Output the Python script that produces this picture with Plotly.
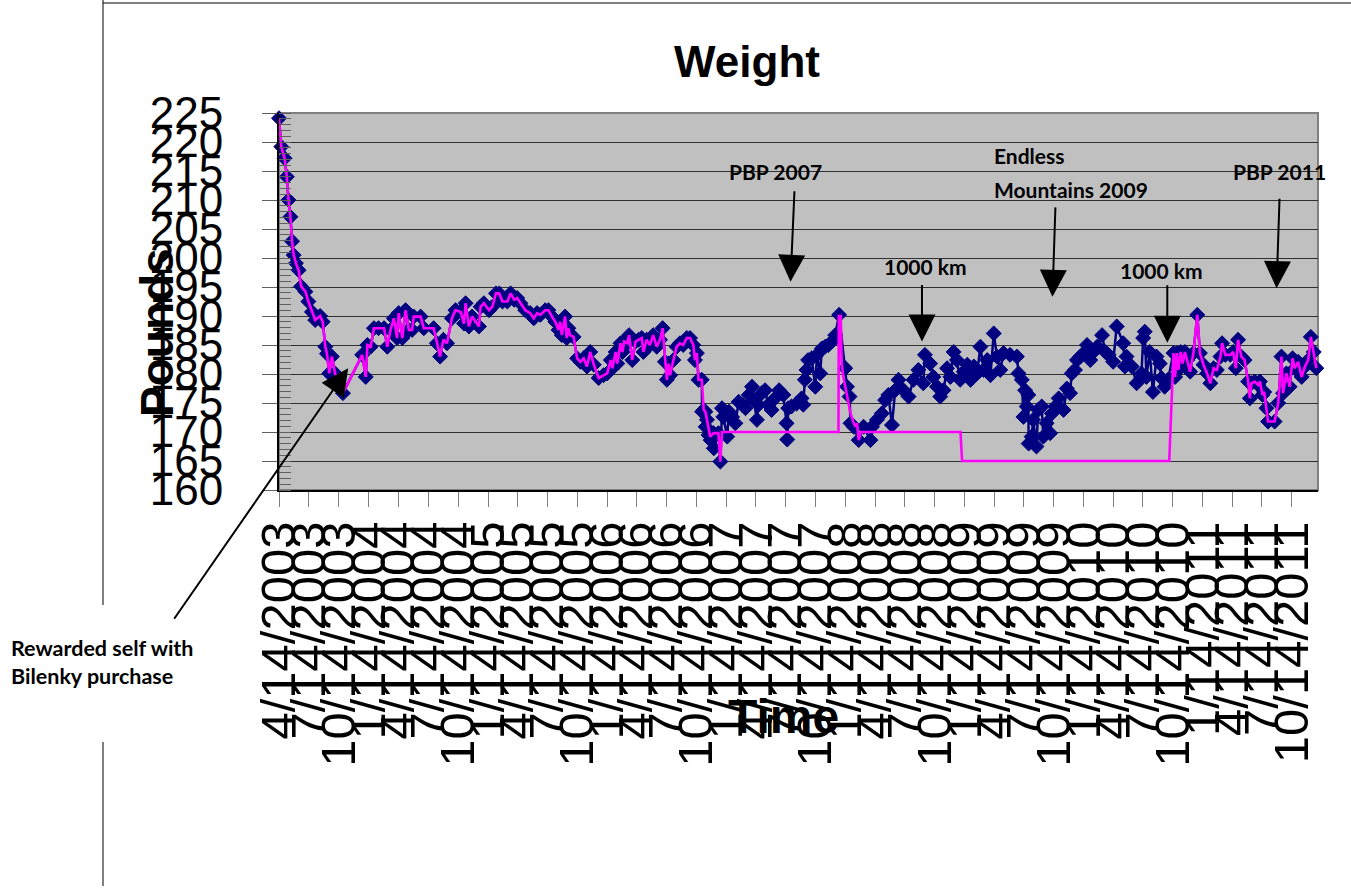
import plotly.graph_objects as go

# ---------------- data ----------------
# 2003 - 2006: weigh-ins, trend line follows them
seg1_dates = [
    "2003-04-14", "2003-04-21", "2003-05-01", "2003-05-08", "2003-05-13", "2003-05-19", "2003-05-24",
    "2003-05-29", "2003-06-05", "2003-06-13", "2003-06-21", "2003-07-04", "2003-07-13", "2003-07-24",
    "2003-08-03", "2003-08-18", "2003-08-26", "2003-09-03", "2003-09-08", "2003-09-15", "2003-09-23",
    "2003-10-03", "2003-10-27", "2003-12-25", "2004-01-05", "2004-01-10", "2004-01-20", "2004-01-30",
    "2004-02-13", "2004-03-01", "2004-03-11", "2004-03-21", "2004-03-31", "2004-04-10", "2004-04-15",
    "2004-04-26", "2004-05-06", "2004-05-16", "2004-05-26", "2004-05-31", "2004-06-21", "2004-07-01",
    "2004-07-31", "2004-08-10", "2004-08-20", "2004-08-30", "2004-09-10", "2004-09-25", "2004-10-06",
    "2004-10-22", "2004-11-01", "2004-11-06", "2004-11-16", "2004-11-26", "2004-12-17", "2004-12-22",
    "2005-01-01", "2005-01-17", "2005-01-27", "2005-02-07", "2005-02-17", "2005-02-27", "2005-03-14",
    "2005-03-24", "2005-04-04", "2005-04-13", "2005-04-23", "2005-05-08", "2005-05-23", "2005-06-03",
    "2005-06-13", "2005-06-23", "2005-07-08", "2005-07-18", "2005-07-29", "2005-08-08", "2005-08-18",
    "2005-08-23", "2005-08-28", "2005-09-07", "2005-09-12", "2005-09-17", "2005-09-22", "2005-10-03",
    "2005-10-14", "2005-10-24", "2005-11-03", "2005-11-13", "2005-11-23", "2005-12-04", "2005-12-19",
    "2006-01-03", "2006-01-14", "2006-01-25", "2006-01-30", "2006-02-09", "2006-02-14", "2006-02-24",
    "2006-03-02", "2006-03-07", "2006-03-17", "2006-03-22", "2006-04-01", "2006-04-11", "2006-04-20",
    "2006-04-30", "2006-05-05", "2006-05-15", "2006-05-25", "2006-06-04", "2006-06-15", "2006-06-25",
    "2006-07-03", "2006-07-10", "2006-07-16", "2006-07-21", "2006-07-26", "2006-08-05", "2006-08-15",
    "2006-08-25", "2006-09-04", "2006-09-15", "2006-09-25", "2006-10-05", "2006-10-10", "2006-10-16",
    "2006-10-21", "2006-10-31", "2006-11-06", "2006-11-11", "2006-11-16", "2006-11-26", "2006-12-06",
    "2006-12-21", "2006-12-27",
]
seg1_lbs = [
    224.1, 219.2, 217.2, 214.0, 210.0, 207.1, 202.9,
    200.5, 199.1, 197.9, 195.1, 194.2, 192.5, 190.7,
    189.3, 190.0, 189.0, 184.7, 183.5, 180.1, 183.0,
    180.1, 176.7, 183.3, 179.5, 185.0, 184.7, 187.9,
    187.9, 187.9, 184.7, 187.6, 189.6, 186.2, 190.5,
    186.2, 191.0, 187.6, 187.6, 189.9, 189.9, 187.9,
    187.9, 185.3, 183.0, 185.9, 185.3, 189.6, 191.0,
    190.7, 188.7, 192.2, 188.2, 189.9, 188.2, 191.6,
    192.2, 191.0, 191.6, 193.9, 193.9, 192.5, 192.5,
    193.9, 192.8, 193.1, 192.2, 191.0, 190.5, 189.6,
    190.5, 190.2, 191.0, 191.0, 189.9, 189.0, 187.6,
    189.0, 186.7, 189.9, 186.2, 187.9, 186.7, 186.4,
    182.7, 182.1, 182.7, 181.3, 183.8, 181.6, 179.3,
    179.8, 180.1, 182.4, 181.0, 183.8, 181.8, 185.3,
    183.8, 185.6, 185.3, 186.7, 182.4, 185.6, 185.9,
    186.2, 183.8, 185.9, 185.0, 186.7, 184.7, 185.9,
    187.9, 182.1, 179.0, 181.8, 179.8, 182.4, 184.7,
    185.3, 185.0, 186.2, 186.2, 185.0, 182.4, 183.6,
    179.0, 179.0, 173.8, 173.5, 172.1, 169.2, 169.8,
    169.8, 164.9,
]

# late 2006 - 2010: weigh-ins only
mid_dates = [
    "2006-11-01", "2006-11-12", "2006-11-21", "2006-11-27", "2006-12-07", "2007-01-01", "2007-01-05",
    "2007-01-17", "2007-01-22", "2007-02-01", "2007-02-11", "2007-02-21", "2007-03-04", "2007-03-14",
    "2007-03-24", "2007-04-03", "2007-04-08", "2007-04-18", "2007-04-23", "2007-05-03", "2007-05-13",
    "2007-05-23", "2007-06-02", "2007-06-12", "2007-06-25", "2007-07-08", "2007-07-18", "2007-07-20",
    "2007-07-23", "2007-08-02", "2007-08-18", "2007-09-02", "2007-09-07", "2007-09-12", "2007-09-17",
    "2007-09-22", "2007-10-03", "2007-10-14", "2007-10-19", "2007-10-29", "2007-11-03", "2007-11-13",
    "2007-11-23", "2007-12-04", "2007-12-14", "2007-12-26", "2008-01-14", "2008-01-19", "2008-01-27",
    "2008-01-30", "2008-02-09", "2008-02-24", "2008-03-10", "2008-03-31", "2008-04-05", "2008-04-20",
    "2008-05-05", "2008-05-15", "2008-05-25", "2008-06-05", "2008-06-15", "2008-06-25", "2008-07-10",
    "2008-07-26", "2008-08-10", "2008-08-25", "2008-09-09", "2008-09-14", "2008-09-30", "2008-10-10",
    "2008-10-21", "2008-10-31", "2008-11-10", "2008-11-21", "2008-12-01", "2008-12-11", "2008-12-21",
    "2008-12-31", "2009-01-11", "2009-01-22", "2009-02-01", "2009-02-11", "2009-02-21", "2009-03-03",
    "2009-03-13", "2009-03-24", "2009-04-03", "2009-04-13", "2009-04-23", "2009-05-03", "2009-05-13",
    "2009-06-02", "2009-06-23", "2009-06-28", "2009-07-08", "2009-07-13", "2009-07-18", "2009-07-23",
    "2009-07-28", "2009-07-29", "2009-08-07", "2009-08-12", "2009-08-22", "2009-08-27", "2009-09-07",
    "2009-09-12", "2009-09-22", "2009-10-03", "2009-10-08", "2009-10-19", "2009-10-29", "2009-11-13",
    "2009-11-23", "2009-12-03", "2009-12-08", "2009-12-18", "2009-12-24", "2010-01-03", "2010-01-14",
    "2010-01-24", "2010-02-03", "2010-02-13", "2010-02-24", "2010-03-11", "2010-03-21", "2010-03-31",
    "2010-04-14", "2010-04-25", "2010-05-15", "2010-05-20", "2010-05-25", "2010-06-10", "2010-06-25",
    "2010-07-10", "2010-07-15", "2010-07-20", "2010-07-25", "2010-08-04", "2010-08-14", "2010-08-25",
    "2010-09-04", "2010-09-09", "2010-09-19", "2010-09-29",
]
mid_lbs = [
    173.5, 170.9, 169.5, 168.6, 167.2, 174.1, 172.6,
    169.2, 173.5, 172.6, 171.5, 175.2, 174.7, 174.1,
    176.4, 177.8, 175.5, 172.1, 174.7, 176.7, 177.2,
    174.7, 173.8, 175.8, 177.2, 176.4, 171.5, 168.7,
    174.1, 174.4, 174.9, 175.8, 174.7, 179.0, 180.7,
    182.4, 182.7, 177.8, 183.3, 180.1, 184.4, 184.7,
    185.0, 185.6, 186.7, 190.2, 181.0, 177.8, 176.1,
    171.5, 170.9, 168.6, 170.9, 168.6, 170.9, 172.1,
    173.2, 175.5, 176.4, 171.2, 177.2, 179.0, 177.2,
    176.1, 179.0, 180.7, 178.4, 183.3, 181.8, 179.5,
    177.8, 176.1, 177.2, 181.0, 179.5, 183.8, 182.4,
    179.0, 180.4, 181.6, 179.0, 181.3, 180.1, 184.7,
    180.7, 182.4, 179.8, 187.0, 183.0, 180.7, 183.6,
    183.3, 183.0, 180.1, 179.0, 172.6, 177.2, 174.4,
    176.4, 168.0, 169.2, 172.1, 167.5, 173.8, 174.4,
    169.2, 171.5, 169.8, 173.2, 174.4, 175.8, 173.8,
    177.5, 176.7, 180.1, 180.7, 182.4, 183.0, 183.6,
    185.0, 182.4, 183.8, 184.7, 186.7, 183.8, 183.3,
    182.1, 188.2, 185.3, 181.3, 183.0, 181.3, 178.4,
    180.1, 186.2, 187.3, 179.5, 183.8, 176.9, 183.0,
    181.8, 179.3, 177.8, 179.0,
]

# trend line values where it is flat / detached from the weigh-ins
gap_dates = [
    "2007-01-01", "2007-12-24", "2007-12-25", "2007-12-31", "2008-01-03", "2008-01-08", "2008-01-19",
    "2008-01-30", "2008-02-09", "2008-02-14", "2008-02-19", "2008-02-24", "2008-03-02", "2009-01-01",
    "2009-01-06", "2010-10-03",
]
gap_lbs = [
    170.0, 170.0, 190.0, 190.0, 181.8, 179.5, 176.1,
    173.2, 171.5, 170.9, 171.5, 168.6, 170.0, 170.0,
    165.0, 165.0,
]

# late 2010 - 2011: weigh-ins, trend line follows them again
seg3_dates = [
    "2010-10-16", "2010-10-21", "2010-10-26", "2010-10-31", "2010-11-07", "2010-11-13", "2010-11-20",
    "2010-11-27", "2010-12-06", "2010-12-16", "2010-12-28", "2011-01-05", "2011-01-16", "2011-01-27",
    "2011-02-06", "2011-02-16", "2011-02-26", "2011-03-09", "2011-03-14", "2011-03-24", "2011-04-08",
    "2011-04-17", "2011-04-25", "2011-05-02", "2011-05-12", "2011-05-22", "2011-06-02", "2011-06-07",
    "2011-06-12", "2011-06-22", "2011-07-03", "2011-07-08", "2011-07-16", "2011-07-21", "2011-07-28",
    "2011-08-02", "2011-08-22", "2011-09-02", "2011-09-12", "2011-09-17", "2011-09-27", "2011-10-07",
    "2011-10-16", "2011-10-23", "2011-11-02", "2011-11-13", "2011-11-23", "2011-12-03", "2011-12-11",
    "2011-12-20", "2011-12-28",
]
seg3_lbs = [
    183.6, 179.5, 183.6, 180.7, 183.8, 181.8, 183.8,
    182.4, 180.4, 183.6, 190.2, 183.6, 181.6, 180.1,
    178.4, 181.0, 180.7, 183.0, 185.3, 183.3, 183.3,
    183.8, 181.0, 185.9, 183.0, 182.4, 178.7, 175.8,
    178.4, 178.7, 178.1, 178.7, 176.4, 176.9, 174.1,
    171.8, 171.8, 175.0, 183.0, 176.7, 180.1, 177.8,
    182.7, 181.0, 182.1, 179.5, 181.3, 182.4, 186.4,
    183.8, 181.0,
]

y_ticks_step = 5
x_range = ["2003-04-14", "2012-01-02"]
y_range = [160, 225]

# event annotations: (label, date, weight at arrow tip)
events = [
    ("PBP 2007", "2007-07-30", 195.9),
    ("1000 km", "2008-09-05", 185.6),
    ("Endless Mountains 2009", "2009-10-10", 193.3),
    ("1000 km", "2010-09-27", 185.4),
    ("PBP 2011", "2011-08-28", 194.8),
]
reward_event = ("Rewarded self with Bilenky purchase", "2003-11-12", 181.0)

# ---------------- figure ----------------
W, H = 1351, 892
ML, MR, MT, MB = 279, 33, 113, 402
PW, PH = W - ML - MR, H - MT - MB


def pxx(x):
    return (x - ML) / PW


def pxy(y):
    return (H - MB - y) / PH


navy = sorted(zip(seg1_dates + mid_dates + seg3_dates, seg1_lbs + mid_lbs + seg3_lbs))
navy_x = [d for d, _ in navy]
navy_y = [v for _, v in navy]
trend_x = seg1_dates + gap_dates + seg3_dates
trend_y = seg1_lbs + gap_lbs + seg3_lbs

fig = go.Figure()
fig.add_trace(go.Scatter(
    x=navy_x, y=navy_y, mode="lines+markers", name="Weight",
    line=dict(color="#000080", width=2.5),
    marker=dict(symbol="diamond", size=11.5, color="#000080", line=dict(color="#000080", width=1)),
    cliponaxis=False, showlegend=False, hoverinfo="x+y",
))
fig.add_trace(go.Scatter(
    x=trend_x, y=trend_y, mode="lines", name="Trend",
    line=dict(color="#FF00FF", width=2.6),
    cliponaxis=False, showlegend=False, hoverinfo="x+y",
))

AX_FONT = "Liberation Sans, Arial, sans-serif"
NOTE_FONT = "Lato, Carlito, Calibri, sans-serif"

annotations = []
# arrows (head at the event point, tail offset in pixels)
arrow_offsets = [(4, -92), (0, -58), (3, -91), (0, -59), (3, -91)]
for (label, d, v), (ax, ay) in zip(events, arrow_offsets):
    annotations.append(dict(
        x=d, y=v, xref="x", yref="y", text="", showarrow=True,
        ax=ax, ay=ay, arrowhead=2, arrowsize=2.7, arrowwidth=2, arrowcolor="black", standoff=0,
    ))
annotations.append(dict(
    x=reward_event[1], y=reward_event[2], xref="x", yref="y", text="", showarrow=True,
    ax=-175, ay=252, arrowhead=2, arrowsize=2.7, arrowwidth=2, arrowcolor="black", standoff=0,
))

# event labels
label_pos = [
    ("<b>PBP 2007</b>", 775, 172, "center"),
    ("<b>1000 km</b>", 925, 266, "center"),
    ("<b>Endless</b>", 992, 155, "left"),
    ("<b>Mountains 2009</b>", 992, 189, "left"),
    ("<b>1000 km</b>", 1161, 270, "center"),
    ("<b>PBP 2011</b>", 1279, 172, "center"),
]
for txt, x, y, anchor in label_pos:
    annotations.append(dict(
        x=pxx(x), y=pxy(y), xref="paper", yref="paper", text=txt, showarrow=False,
        xanchor=anchor, yanchor="middle", font=dict(family=NOTE_FONT, size=21, color="black"),
    ))
annotations.append(dict(
    x=pxx(9), y=pxy(662), xref="paper", yref="paper",
    text="<b>Rewarded self with</b><br><b>Bilenky purchase</b>", showarrow=False,
    xanchor="left", yanchor="middle", align="left",
    font=dict(family=NOTE_FONT, size=21.5, color="black"), bgcolor="white",
))
# axis titles
annotations.append(dict(
    x=pxx(783), y=pxy(716), xref="paper", yref="paper", text="<b>Time</b>", showarrow=False,
    xanchor="center", yanchor="middle", font=dict(family=AX_FONT, size=48, color="black"),
))
annotations.append(dict(
    x=pxx(157), y=pxy(333), xref="paper", yref="paper", text="<b>Pounds</b>", showarrow=False,
    textangle=-90, xanchor="center", yanchor="middle", font=dict(family=AX_FONT, size=46, color="black"),
))

shapes = [
    # plot-area border
    dict(type="rect", xref="paper", yref="paper", x0=0, y0=0, x1=1, y1=1,
         line=dict(color="#808080", width=2), layer="below"),
    # chart-area border pieces
    dict(type="line", xref="paper", yref="paper", x0=pxx(103), x1=pxx(103), y0=pxy(0), y1=pxy(605),
         line=dict(color="black", width=1)),
    dict(type="line", xref="paper", yref="paper", x0=pxx(103), x1=pxx(103), y0=pxy(742), y1=pxy(886),
         line=dict(color="black", width=1)),
    dict(type="line", xref="paper", yref="paper", x0=pxx(103), x1=pxx(1351), y0=pxy(3), y1=pxy(3),
         line=dict(color="black", width=1)),
]

fig.update_layout(
    width=W, height=H,
    margin=dict(l=ML, r=MR, t=MT, b=MB, pad=0),
    paper_bgcolor="white", plot_bgcolor="#C0C0C0",
    showlegend=False,
    title=dict(text="<b>Weight</b>", x=747 / W, xref="container", xanchor="center",
               y=1 - 62 / H, yref="container", yanchor="middle",
               font=dict(family=AX_FONT, size=44, color="black")),
    xaxis=dict(
        type="date", range=x_range, tick0=x_range[0], dtick="M3", tickformat="%-m/%-d/%Y",
        tickangle=-90, ticks="outside", ticklen=15, tickwidth=1, tickcolor="#808080",
        showline=True, linecolor="black", linewidth=2, showgrid=False, zeroline=False,
        tickfont=dict(family=AX_FONT, size=49, color="black"), ticklabelstandoff=-5,
    ),
    yaxis=dict(
        range=y_range, tick0=y_range[0], dtick=y_ticks_step, ticks="outside", ticklen=15,
        tickwidth=1, tickcolor="#606060",
        showline=True, linecolor="black", linewidth=2, showgrid=True, gridcolor="#303030",
        gridwidth=1, zeroline=False,
        tickfont=dict(family=AX_FONT, size=44, color="black"), ticklabelstandoff=30,
        minor=dict(dtick=1, ticks="inside", ticklen=12, tickwidth=1, tickcolor="#606060", showgrid=False),
    ),
    annotations=annotations,
    shapes=shapes,
)

fig.write_html("out.html", post_script="document.body.style.margin='0';",
               config={"displayModeBar": False})
